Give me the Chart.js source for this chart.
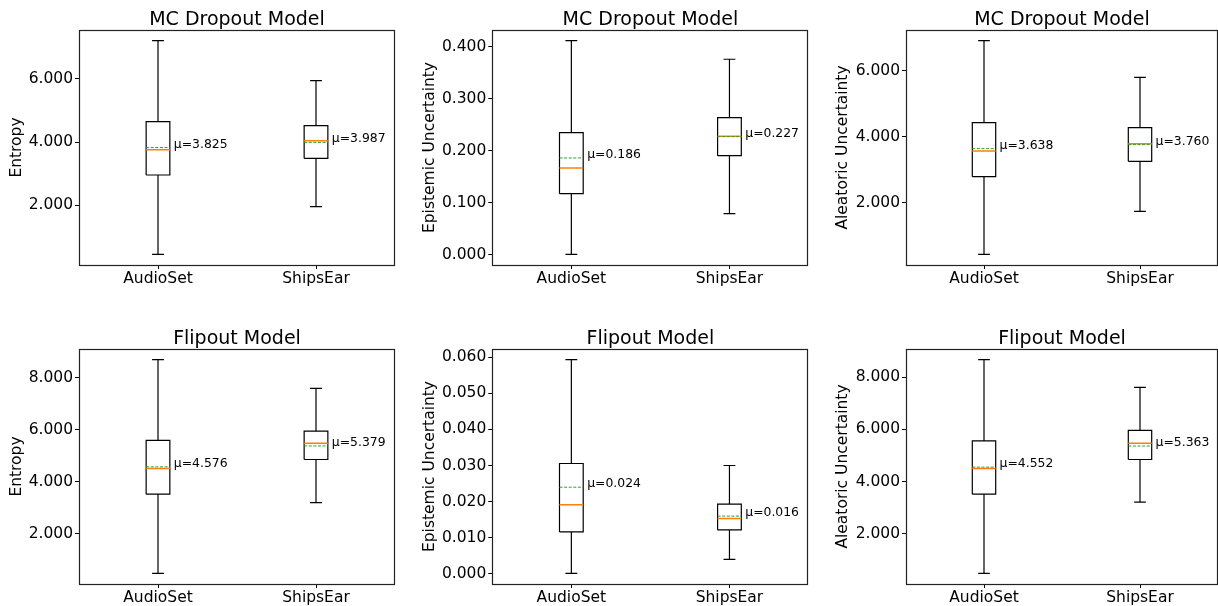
<!DOCTYPE html>
<html>
<head>
<meta charset="utf-8">
<script src="https://cdn.jsdelivr.net/npm/chart.js@4.4.0/dist/chart.umd.min.js"></script>
<style>
  html, body { margin: 0; padding: 0; background: #fff; overflow: hidden; }
  #fig { position: relative; width: 1218px; height: 606px; }
  #fig canvas { position: absolute; }
</style>
</head>
<body>
<div id="fig"></div>
<script>
// categories on the x axis
const categories = ['AudioSet', 'ShipsEar'];
const positions = [1, 2];

const panelTitles = ['MC Dropout Model', 'MC Dropout Model', 'MC Dropout Model',
  'Flipout Model', 'Flipout Model', 'Flipout Model'];
const yAxisLabels = ['Entropy', 'Epistemic Uncertainty', 'Aleatoric Uncertainty',
  'Entropy', 'Epistemic Uncertainty', 'Aleatoric Uncertainty'];

// box stats per category: [whisker low, q1, median, q3, whisker high]
const mcEntropy = [[0.454, 2.958, 3.757, 4.641, 7.199], [1.957, 3.485, 4.040, 4.515, 5.936]];
const mcEntropyMean = [3.825, 3.987];
const mcEpistemic = [[0.0007, 0.1173, 0.1667, 0.2346, 0.4115], [0.0788, 0.1904, 0.2277, 0.2635, 0.3758]];
const mcEpistemicMean = [0.186, 0.227];
const mcAleatoric = [[0.436, 2.788, 3.567, 4.424, 6.909], [1.738, 3.255, 3.788, 4.273, 5.800]];
const mcAleatoricMean = [3.638, 3.760];
const flipEntropy = [[0.487, 3.526, 4.513, 5.590, 8.692], [3.205, 4.859, 5.487, 5.949, 7.590]];
const flipEntropyMean = [4.576, 5.379];
const flipEpistemic = [[0.00018, 0.01163, 0.01911, 0.03055, 0.05926], [0.00406, 0.01219, 0.01532, 0.01929, 0.0300]];
const flipEpistemicMean = [0.024, 0.016];
const flipAleatoric = [[0.474, 3.513, 4.500, 5.564, 8.679], [3.205, 4.846, 5.474, 5.962, 7.615]];
const flipAleatoricMean = [4.552, 5.363];

// y tick values per panel
const ticksMcEntropy = [2, 4, 6];
const ticksMcEpistemic = [0, 0.1, 0.2, 0.3, 0.4];
const ticksMcAleatoric = [2, 4, 6];
const ticksFlipEntropy = [2, 4, 6, 8];
const ticksFlipEpistemic = [0, 0.01, 0.02, 0.03, 0.04, 0.05, 0.06];
const ticksFlipAleatoric = [2, 4, 6, 8];

const panelStats = [mcEntropy, mcEpistemic, mcAleatoric, flipEntropy, flipEpistemic, flipAleatoric];
const panelMeans = [mcEntropyMean, mcEpistemicMean, mcAleatoricMean, flipEntropyMean, flipEpistemicMean, flipAleatoricMean];
const panelTicks = [ticksMcEntropy, ticksMcEpistemic, ticksMcAleatoric, ticksFlipEntropy, ticksFlipEpistemic, ticksFlipAleatoric];

// layout (figure pixels)
const colLeft = [0, 405, 815];
const colWidth = [405, 410, 403];
const axesLeft = [79, 492.3, 906];
const axesRight = [395, 808.5, 1218];
const rowTop = [0, 303];
const rowHeight = 303;
const axesTop = [30, 349];
const axesBottom = [265, 584];
const yTitlePad = [7.7, 15.7, 19];

const BOX_W = 0.15;
const CAP_W = 0.075;
const FONT = "'DejaVu Sans', sans-serif";

Chart.defaults.font.family = FONT;
Chart.defaults.color = '#000';

function boxOutline(stats) {
  const pts = [];
  stats.forEach((s, i) => {
    const p = positions[i];
    const [lo, q1, , q3, hi] = s;
    const h = BOX_W / 2, c = CAP_W / 2;
    pts.push(
      {x: p - h, y: q1}, {x: p + h, y: q1}, {x: p + h, y: q3}, {x: p - h, y: q3}, {x: p - h, y: q1}, {x: p, y: null},
      {x: p, y: q1}, {x: p, y: lo}, {x: p, y: null},
      {x: p - c, y: lo}, {x: p + c, y: lo}, {x: p, y: null},
      {x: p, y: q3}, {x: p, y: hi}, {x: p, y: null},
      {x: p - c, y: hi}, {x: p + c, y: hi}, {x: p, y: null}
    );
  });
  return pts;
}

function hLines(values) {
  const pts = [];
  values.forEach((v, i) => {
    const p = positions[i];
    pts.push({x: p - BOX_W / 2, y: v}, {x: p + BOX_W / 2, y: v}, {x: p, y: null});
  });
  return pts;
}

const boxAnnot = {
  id: 'boxAnnot',
  afterDraw(chart, args, opts) {
    const {ctx, chartArea: a, scales} = chart;
    ctx.save();
    // frame
    ctx.strokeStyle = '#222';
    ctx.lineWidth = 1.2;
    ctx.strokeRect(Math.round(a.left) + 0.5, Math.round(a.top) + 0.5,
      Math.round(a.right - a.left) - 1, Math.round(a.bottom - a.top));
    // title
    ctx.fillStyle = '#000';
    ctx.font = '19px ' + FONT;
    ctx.textAlign = 'center';
    ctx.textBaseline = 'alphabetic';
    ctx.fillText(opts.title, (a.left + a.right) / 2, a.top - 5.5);
    // mean labels
    ctx.font = '12.4px ' + FONT;
    ctx.textAlign = 'left';
    opts.means.forEach((m, i) => {
      const x = scales.x.getPixelForValue(positions[i] + 0.1);
      const y = scales.y.getPixelForValue(m);
      ctx.fillText('\u03bc=' + m.toFixed(3), x, y);
    });
    ctx.restore();
  }
};

const fig = document.getElementById('fig');

for (let k = 0; k < 6; k++) {
  const col = k % 3, row = Math.floor(k / 3);
  const stats = panelStats[k];
  const means = panelMeans[k];
  const ticks = panelTicks[k];

  const lo = Math.min(...stats.map(s => s[0]));
  const hi = Math.max(...stats.map(s => s[4]));
  const margin = (hi - lo) * 0.05;

  const canvas = document.createElement('canvas');
  canvas.width = colWidth[col];
  canvas.height = rowHeight;
  canvas.style.left = colLeft[col] + 'px';
  canvas.style.top = rowTop[row] + 'px';
  fig.appendChild(canvas);

  const yWidth = axesLeft[col] - colLeft[col];
  const padRight = Math.max(colLeft[col] + colWidth[col] - axesRight[col], 0);
  const padTop = axesTop[row] - rowTop[row];
  const xHeight = rowTop[row] + rowHeight - axesBottom[row];

  new Chart(canvas, {
    type: 'scatter',
    data: {
      datasets: [
        {
          data: hLines(means),
          showLine: true,
          borderColor: '#2ca02c',
          borderWidth: 1,
          borderDash: [3, 1.6],
          pointRadius: 0,
          spanGaps: false,
        },
        {
          data: hLines(stats.map(s => s[2])),
          showLine: true,
          borderColor: '#ff7f0e',
          borderWidth: 1.5,
          pointRadius: 0,
          spanGaps: false,
        },
        {
          data: boxOutline(stats),
          showLine: true,
          borderColor: '#000',
          borderWidth: 1.2,
          pointRadius: 0,
          spanGaps: false,
        },
      ],
    },
    options: {
      responsive: false,
      animation: false,
      events: [],
      layout: { padding: { left: 0, right: padRight, top: padTop, bottom: 0 } },
      scales: {
        x: {
          type: 'linear',
          min: 0.5,
          max: 2.5,
          afterBuildTicks: s => { s.ticks = positions.map(v => ({ value: v })); },
          afterFit: s => { s.height = xHeight; },
          ticks: {
            autoSkip: false,
            maxRotation: 0,
            padding: 1,
            color: '#000',
            font: { size: 15.5 },
            callback: v => categories[positions.indexOf(v)],
          },
          grid: { drawOnChartArea: false, drawTicks: true, tickLength: 4, color: '#000' },
          border: { display: false },
        },
        y: {
          type: 'linear',
          min: lo - margin,
          max: hi + margin,
          afterBuildTicks: s => { s.ticks = ticks.map(v => ({ value: v })); },
          afterFit: s => { s.width = yWidth; },
          ticks: {
            autoSkip: false,
            padding: 2,
            color: '#000',
            font: { size: 15.5 },
            callback: v => v.toFixed(3),
          },
          grid: { drawOnChartArea: false, drawTicks: true, tickLength: 4, color: '#000' },
          border: { display: false },
          title: {
            display: true,
            text: yAxisLabels[k],
            color: '#000',
            font: { size: 15.5 },
            padding: { top: yTitlePad[col], bottom: 0 },
          },
        },
      },
      plugins: {
        legend: { display: false },
        tooltip: { enabled: false },
        boxAnnot: { title: panelTitles[k], means: means },
      },
    },
    plugins: [boxAnnot],
  });
}
</script>
</body>
</html>
